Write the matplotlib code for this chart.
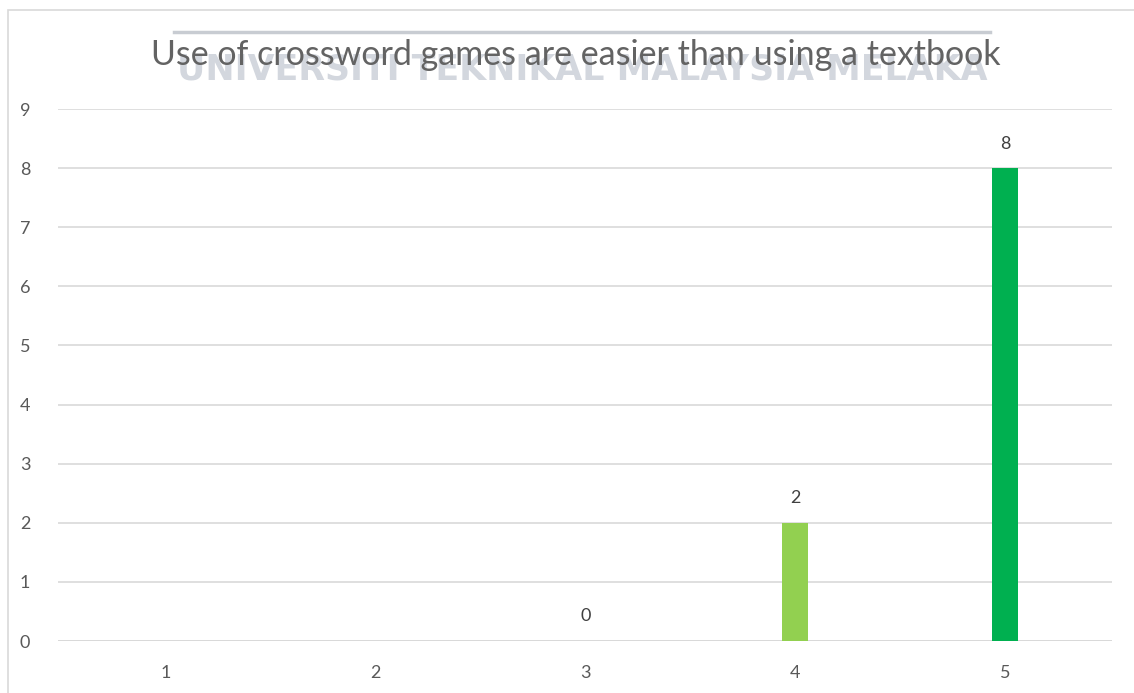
import numpy as np
import matplotlib.pyplot as plt
from matplotlib.patches import Rectangle
from matplotlib.lines import Line2D

plt.rcParams['font.family'] = ['Lato', 'DejaVu Sans']

categories = ['1', '2', '3', '4', '5']
values = [np.nan, np.nan, 0, 2, 8]
bar_colors = ['#92D050', '#92D050', '#92D050', '#92D050', '#00B050']

W, H = 1134, 693
fig = plt.figure(figsize=(W / 100, H / 100), dpi=100)
ax = fig.add_axes([58 / W, 1 - 641 / H, (1112 - 58) / W, (641 - 109) / H])

# chart frame and watermark bits
fig.patches.append(Rectangle((8 / W, -0.05), 1.2, 1 - 10 / H + 0.05,
                             transform=fig.transFigure, fill=False,
                             edgecolor='#d9d9d9', linewidth=1.2))
fig.lines.append(Line2D([174 / W, 990 / W], [1 - 31.5 / H, 1 - 31.5 / H],
                        transform=fig.transFigure, color='#c8ccd2', linewidth=2.5))
fig.text(582 / W, 1 - 80 / H, 'UNIVERSITI TEKNIKAL MALAYSIA MELAKA', ha='center', va='baseline',
         fontsize=25, fontweight='bold', color='#d3d7de', family=['DejaVu Sans'], zorder=0)

x = np.arange(1, len(categories) + 1)
ax.bar(x, values, width=0.125, color=bar_colors, zorder=3)
for xi, v in zip(x, values):
    if not np.isnan(v):
        ax.text(xi, v + 0.28, f'{v:g}', ha='center', va='bottom', fontsize=13, color='#404040')

ax.set_xlim(0.487, 5.51)
ax.set_ylim(0, 9)
ax.set_yticks(range(0, 10))
ax.set_xticks(x)
ax.set_xticklabels(categories)
ax.tick_params(length=0, labelsize=13, labelcolor='#595959')
ax.tick_params(axis='y', pad=20)
ax.tick_params(axis='x', pad=17)
ax.grid(axis='y', color='#d9d9d9', linewidth=1.2, zorder=0)
ax.axhline(0, color='#d9d9d9', linewidth=2, zorder=2)
for s in ax.spines.values():
    s.set_visible(False)

fig.text(576 / W, 1 - 65 / H, 'Use of crossword games are easier than using a textbook',
         ha='center', va='baseline', fontsize=24.5, color='#636363')

fig.savefig('out.png', dpi=100)
